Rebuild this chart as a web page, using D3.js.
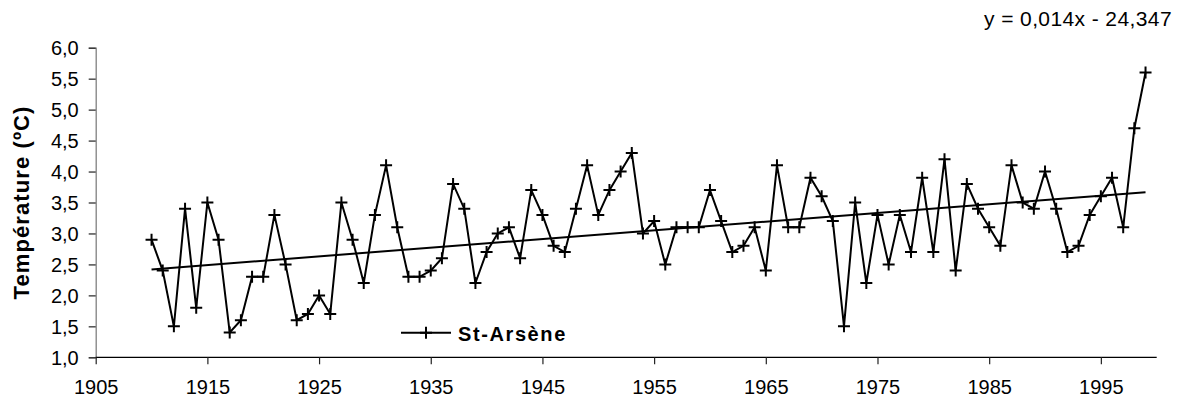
<!DOCTYPE html>
<html>
<head>
<meta charset="utf-8">
<script src="https://cdn.jsdelivr.net/npm/d3@7"></script>
<style>
  html, body { margin: 0; padding: 0; background: #fff; }
  svg { display: block; font-family: "Liberation Sans", Arial, sans-serif; }
</style>
</head>
<body>
<svg id="chart" width="1182" height="406"></svg>
<script>
// ---- data ----
const years = d3.range(1910, 2000);
const temps = [
  2.9, 2.4, 1.5, 3.4, 1.8, 3.5, 2.9, 1.4, 1.6, 2.3,
  2.3, 3.3, 2.5, 1.6, 1.7, 2.0, 1.7, 3.5, 2.9, 2.2,
  3.3, 4.1, 3.1, 2.3, 2.3, 2.4, 2.6, 3.8, 3.4, 2.2,
  2.7, 3.0, 3.1, 2.6, 3.7, 3.3, 2.8, 2.7, 3.4, 4.1,
  3.3, 3.7, 4.0, 4.3, 3.0, 3.2, 2.5, 3.1, 3.1, 3.1,
  3.7, 3.2, 2.7, 2.8, 3.1, 2.4, 4.1, 3.1, 3.1, 3.9,
  3.6, 3.2, 1.5, 3.5, 2.2, 3.3, 2.5, 3.3, 2.7, 3.9,
  2.7, 4.2, 2.4, 3.8, 3.4, 3.1, 2.8, 4.1, 3.5, 3.4,
  4.0, 3.4, 2.7, 2.8, 3.3, 3.6, 3.9, 3.1, 4.7, 5.6
];
const xTicks = [1905, 1915, 1925, 1935, 1945, 1955, 1965, 1975, 1985, 1995];
const yTicks = [1.0, 1.5, 2.0, 2.5, 3.0, 3.5, 4.0, 4.5, 5.0, 5.5, 6.0];
const seriesName = "St-Arsène";
const yLabel = "Température (ºC)";
const equation = "y = 0,014x - 24,347";

(function () {
// ---- layout ----
const svg = d3.select("#chart");
const pL = 95.7, pR = 1156.7, pT = 47.7, pB = 357.3;
const x = d3.scaleLinear().domain([1905, 2000]).range([pL, pR]);
const y = d3.scaleLinear().domain([1.0, 6.0]).range([pB, pT]);

const fmt = v => d3.format(".1f")(v).replace(".", ",");
const FF = "Liberation Sans, Arial, sans-serif";

// y axis
const yAxis = svg.append("g").attr("transform", `translate(${pL},0)`)
  .call(d3.axisLeft(y).tickValues(yTicks).tickFormat(fmt).tickSize(7).tickPadding(10));
yAxis.select(".domain").attr("stroke", "#808080").attr("stroke-width", 1.3);
yAxis.selectAll(".tick line").attr("stroke", "#222").attr("stroke-width", 1.2);
yAxis.selectAll(".tick text").attr("font-size", 20).attr("fill", "#000")
  .attr("font-family", FF).attr("dy", "0.36em");

// x axis
const xAxis = svg.append("g").attr("transform", `translate(0,${pB})`)
  .call(d3.axisBottom(x).tickValues(xTicks).tickFormat(d3.format("d")).tickSize(7).tickPadding(16));
xAxis.select(".domain").attr("stroke", "#000").attr("stroke-width", 1.3)
  .attr("d", `M${pL},0H${pR}`);
xAxis.selectAll(".tick line").attr("stroke", "#222").attr("stroke-width", 1.2);
xAxis.selectAll(".tick text").attr("font-size", 20).attr("fill", "#000")
  .attr("font-family", FF);

// y label
svg.append("text")
  .attr("transform", `translate(29,${202.5}) rotate(-90)`)
  .attr("text-anchor", "middle")
  .attr("font-size", 22).attr("font-weight", "bold").attr("letter-spacing", 1.1)
  .text(yLabel);

// data line
const pts = years.map((yr, i) => [yr, temps[i]]);
svg.append("path").datum(pts)
  .attr("fill", "none").attr("stroke", "#000").attr("stroke-width", 2)
  .attr("d", d3.line().x(d => x(d[0])).y(d => y(d[1])));

// trend (least squares)
const mx = d3.mean(years), my = d3.mean(temps);
const slope = d3.sum(years, (v, i) => (v - mx) * (temps[i] - my)) / d3.sum(years, v => (v - mx) ** 2);
const icpt = my - slope * mx;
const x0 = years[0], x1 = years[years.length - 1];
svg.append("line")
  .attr("x1", x(x0)).attr("y1", y(slope * x0 + icpt))
  .attr("x2", x(x1)).attr("y2", y(slope * x1 + icpt))
  .attr("stroke", "#000").attr("stroke-width", 2);

// markers
const m = 6;
const mk = svg.append("g").attr("stroke", "#000").attr("stroke-width", 2);
mk.selectAll("path").data(pts).enter().append("path")
  .attr("d", d => `M${x(d[0]) - m},${y(d[1])}H${x(d[0]) + m}M${x(d[0])},${y(d[1]) - m}V${y(d[1]) + m}`);

// legend
const lg = svg.append("g");
lg.append("line").attr("x1", 401).attr("x2", 451).attr("y1", 332.7).attr("y2", 332.7)
  .attr("stroke", "#000").attr("stroke-width", 2);
lg.append("path").attr("d", `M${426 - m},332.7H${426 + m}M426,${332.7 - m}V${332.7 + m}`)
  .attr("stroke", "#000").attr("stroke-width", 2);
lg.append("text").attr("x", 458).attr("y", 340.5)
  .attr("font-size", 20).attr("font-weight", "bold").attr("letter-spacing", 1.6)
  .text(seriesName);

// equation
svg.append("text").attr("x", 1172).attr("y", 26)
  .attr("text-anchor", "end").attr("font-size", 21).attr("letter-spacing", 0.4)
  .text(equation);
})();
</script>
</body>
</html>
